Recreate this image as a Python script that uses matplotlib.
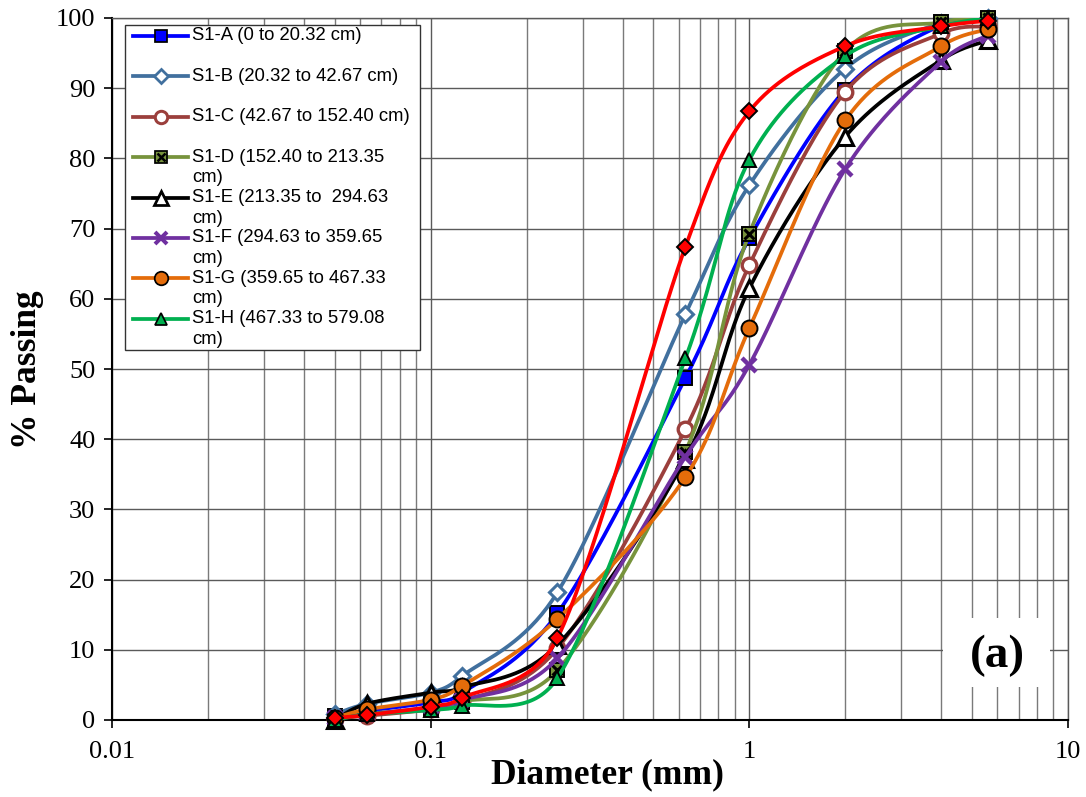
import numpy as np
import matplotlib
matplotlib.use("Agg")
import matplotlib.pyplot as plt
from matplotlib.lines import Line2D
from matplotlib.patches import Rectangle

# ---------------- data ----------------
diameter = [0.05, 0.063, 0.1, 0.125, 0.25, 0.63, 1.0, 2.0, 4.0, 5.6]

s1_a = [0.5, 1.3, 2.5, 3.8, 15.2, 48.7, 68.6, 89.8, 99.0, 99.8]
s1_b = [0.8, 2.3, 3.9, 6.2, 18.2, 57.8, 76.2, 92.8, 99.3, 100.0]
s1_c = [0.2, 0.6, 1.5, 2.5, 10.2, 41.4, 64.8, 89.5, 97.8, 98.8]
s1_d = [0.3, 0.9, 1.6, 2.6, 7.1, 38.2, 69.3, 95.3, 99.4, 100.0]
s1_e = [0.0, 2.3, 3.9, 4.6, 10.7, 37.2, 61.5, 83.1, 94.0, 96.8]
s1_f = [0.3, 0.8, 1.8, 2.8, 8.8, 37.5, 50.6, 78.5, 93.8, 97.5]
s1_g = [0.3, 1.5, 2.9, 4.8, 14.4, 34.6, 55.8, 85.4, 96.0, 98.4]
s1_h = [0.0, 0.8, 1.4, 2.0, 6.0, 51.5, 79.8, 94.6, 98.8, 100.0]
s1_red = [0.3, 0.7, 1.9, 3.1, 11.7, 67.4, 86.7, 96.0, 98.8, 99.6]

labels = [
    "S1-A (0 to 20.32 cm)",
    "S1-B (20.32 to 42.67 cm)",
    "S1-C (42.67 to 152.40 cm)",
    "S1-D (152.40 to 213.35\ncm)",
    "S1-E (213.35 to  294.63\ncm)",
    "S1-F (294.63 to 359.65\ncm)",
    "S1-G (359.65 to 467.33\ncm)",
    "S1-H (467.33 to 579.08\ncm)",
]

x_ticks = [0.01, 0.1, 1, 10]
x_ticklabels = ["0.01", "0.1", "1", "10"]
y_ticks = list(range(0, 101, 10))

# ---------------- styles ----------------
styles = [
    dict(color="#0000FF", marker="s", mfc="#0000FF", mec="black", ms=9.5, mew=1.4),
    dict(color="#41709E", marker="D", mfc="white", mec="#41709E", ms=8.5, mew=2.2),
    dict(color="#9B3F3C", marker="o", mfc="white", mec="#9B3F3C", ms=10.5, mew=2.4),
    dict(color="#77933C", marker="s", mfc="#77933C", mec="black", ms=10, mew=1.4),
    dict(color="black", marker="^", mfc="white", mec="black", ms=11.5, mew=2.2),
    dict(color="#7030A0", marker="x", mfc="#7030A0", mec="#7030A0", ms=10, mew=3.2),
    dict(color="#E46C0A", marker="o", mfc="#E46C0A", mec="black", ms=11.5, mew=1.4),
    dict(color="#00B050", marker="^", mfc="#00B050", mec="black", ms=10.5, mew=1.4),
    dict(color="#FF0000", marker="D", mfc="#FF0000", mec="black", ms=8.5, mew=1.4),
]
series = [s1_a, s1_b, s1_c, s1_d, s1_e, s1_f, s1_g, s1_h, s1_red]

fig = plt.figure(figsize=(10.86, 7.97), dpi=100)
ax = fig.add_axes([112 / 1086, 1 - 720 / 797, 956 / 1086, 702 / 797])
ax.set_xscale("log")
ax.set_xlim(0.01, 10)
ax.set_ylim(0, 100)


def excel_smooth(xs, ys, n=40):
    """Excel-like smoothed line (Bezier with limited arms), computed in display space."""
    pts = ax.transData.transform(np.column_stack([xs, ys]))
    m = len(pts)
    out = [pts[0]]
    def arms(i):
        p0 = pts[max(i - 1, 0)]
        p1 = pts[i]
        p2 = pts[min(i + 1, m - 1)]
        v = p2 - p0
        d02 = np.hypot(*v)
        if d02 == 0:
            return np.zeros(2), np.zeros(2)
        u = v / d02
        d01 = np.hypot(*(p1 - p0))
        d12 = np.hypot(*(p2 - p1))
        fwd = min(d02 / 6, d12 / 2) if d12 > 0 else 0
        bwd = min(d02 / 6, d01 / 2) if d01 > 0 else 0
        return u * fwd, u * bwd
    t = np.linspace(0, 1, n)[1:, None]
    for i in range(m - 1):
        f1, _ = arms(i)
        _, b2 = arms(i + 1)
        P0 = pts[i]
        C1 = P0 + f1
        P3 = pts[i + 1]
        C2 = P3 - b2
        seg = ((1 - t) ** 3) * P0 + 3 * ((1 - t) ** 2) * t * C1 + 3 * (1 - t) * t ** 2 * C2 + t ** 3 * P3
        out.extend(seg)
    out = np.array(out)
    data = ax.transData.inverted().transform(out)
    return data[:, 0], data[:, 1]


LW = 2.7
for k, (ys, st) in enumerate(zip(series, styles)):
    sx, sy = excel_smooth(diameter, ys)
    ax.plot(sx, sy, color=st["color"], lw=LW, zorder=3 + k * 0.1, solid_capstyle="round")
    ax.plot(diameter, ys, ls="none", marker=st["marker"], mfc=st["mfc"], mec=st["mec"],
            ms=st["ms"], mew=st["mew"], zorder=3.05 + k * 0.1, clip_on=False)
    if k == 3:
        ax.plot(diameter, ys, ls="none", marker="x", color="black", ms=7, mew=2.2,
                zorder=3.06 + k * 0.1, clip_on=False)

# grid
ax.set_xticks(x_ticks)
ax.set_xticklabels(x_ticklabels)
ax.set_yticks(y_ticks)
ax.xaxis.set_minor_locator(matplotlib.ticker.LogLocator(base=10, subs=np.arange(2, 10)))
ax.xaxis.set_minor_formatter(matplotlib.ticker.NullFormatter())
ax.grid(True, which="major", axis="both", color="#5a5a5a", lw=1.0, zorder=0)
ax.grid(True, which="minor", axis="x", color="#7a7a7a", lw=1.0, zorder=0)
ax.set_axisbelow(True)
ax.tick_params(axis="both", which="major", direction="out", length=6, width=1.2,
               color="black", pad=6)
ax.tick_params(axis="x", which="minor", length=0)
for lab in ax.get_xticklabels() + ax.get_yticklabels():
    lab.set_fontfamily("Liberation Serif")
    lab.set_fontsize(19)
ax.tick_params(axis="x", pad=9)

for side in ["left", "bottom"]:
    ax.spines[side].set_color("black")
    ax.spines[side].set_linewidth(1.5)
for side in ["top", "right"]:
    ax.spines[side].set_color("#5a5a5a")
    ax.spines[side].set_linewidth(1.0)

# axis titles placed in figure pixels
W, H = 1086, 797
fig.text(607 / W, 1 - 775 / H, "Diameter (mm)", fontfamily="Liberation Serif",
         fontweight="bold", fontsize=25.5, ha="center", va="center")
fig.text(27 / W, 1 - 370 / H, "% Passing", fontfamily="Liberation Serif",
         fontweight="bold", fontsize=25.5, ha="center", va="center", rotation=90)

# "(a)" label with white box
ax.add_patch(Rectangle(((943 - 112) / 956, (720 - 687) / 702), (1050 - 943) / 956, (687 - 618) / 702,
                       transform=ax.transAxes, facecolor="white", edgecolor="none", zorder=1))
ax.text((997 - 112) / 956, (720 - 656) / 702, "(a)", transform=ax.transAxes,
        fontfamily="Liberation Serif", fontweight="bold", fontsize=34,
        ha="center", va="center", zorder=2)

# manual legend (Excel style)
def ax_x(px):
    return (px - 112) / 956

def ax_y(py):
    return (720 - py) / 702

ax.add_patch(Rectangle((ax_x(125), ax_y(350)), ax_x(420) - ax_x(125), ax_y(25) - ax_y(350),
                       transform=ax.transAxes, facecolor="white", edgecolor="#333333",
                       lw=1.0, zorder=10))
for k, lab in enumerate(labels):
    st = styles[k]
    py = 36 + k * 40.4
    yy = ax_y(py)
    ax.add_line(Line2D([ax_x(133), ax_x(188)], [yy, yy], transform=ax.transAxes,
                       color=st["color"], lw=LW, zorder=11))
    ax.add_line(Line2D([ax_x(161)], [yy], transform=ax.transAxes, ls="none",
                       marker=st["marker"], mfc=st["mfc"], mec=st["mec"],
                       ms=st["ms"] * 0.85, mew=st["mew"] * 0.9, zorder=12))
    if k == 3:
        ax.add_line(Line2D([ax_x(161)], [yy], transform=ax.transAxes, ls="none",
                           marker="x", color="black", ms=6, mew=1.8, zorder=13))
    parts = lab.split("\n")
    for j, part in enumerate(parts):
        ax.text(ax_x(192), ax_y(py + j * 20.5), part, transform=ax.transAxes,
                fontfamily="Liberation Sans", fontsize=13.3, ha="left", va="center",
                zorder=12)

fig.savefig("out.png", dpi=100)
